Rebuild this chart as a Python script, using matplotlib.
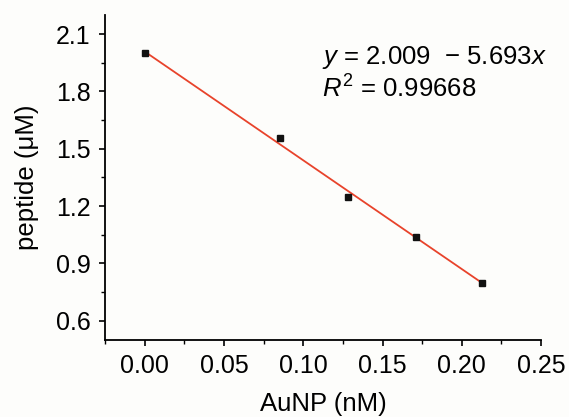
import matplotlib
matplotlib.use("Agg")
import matplotlib.pyplot as plt
import matplotlib.ticker as ticker

# data
aunp = [0.0, 0.0853, 0.128, 0.171, 0.213]
peptide = [2.000, 1.558, 1.247, 1.038, 0.795]
intercept = 2.009
slope = -5.693
r2 = 0.99668

plt.rcParams['font.family'] = ['Liberation Sans', 'DejaVu Sans']
plt.rcParams['mathtext.fontset'] = 'custom'
plt.rcParams['mathtext.rm'] = 'Liberation Sans'
plt.rcParams['mathtext.it'] = 'Liberation Sans:italic'

fig = plt.figure(figsize=(5.69, 4.17), dpi=100, facecolor='#fdfdfb')
ax = fig.add_axes([0.1845, 0.185, 0.7665, 0.779])
ax.set_facecolor('#fdfdfb')

# fitted line
fx = [min(aunp), max(aunp)]
fy = [intercept + slope * v for v in fx]
ax.plot(fx, fy, color='#e8432b', lw=1.3, zorder=2)
ax.plot(aunp, peptide, 's', color='#111111', ms=4.5, zorder=3)

ax.set_xlim(-0.025, 0.25)
ax.set_ylim(0.5, 2.2)
ax.xaxis.set_major_locator(ticker.MultipleLocator(0.05))
ax.xaxis.set_minor_locator(ticker.MultipleLocator(0.025))
ax.yaxis.set_major_locator(ticker.MultipleLocator(0.3))
ax.yaxis.set_minor_locator(ticker.MultipleLocator(0.15))
ax.xaxis.set_major_formatter(ticker.FormatStrFormatter('%.2f'))
ax.yaxis.set_major_formatter(ticker.FormatStrFormatter('%.1f'))
ax.tick_params(which='major', direction='out', length=4.5, width=1.2, labelsize=18, pad=6)
ax.tick_params(which='minor', direction='out', length=3, width=1.0)

ax.spines['top'].set_visible(False)
ax.spines['right'].set_visible(False)
ax.spines['left'].set_linewidth(1.3)
ax.spines['bottom'].set_linewidth(1.3)

ax.set_xlabel('AuNP (nM)', fontsize=18.5, labelpad=10)
ax.set_ylabel('peptide (\u03bcM)', fontsize=18.5, labelpad=12)

ax.text(0.112, 1.943, '$y$ = %.3f  \u2212 %.3f$x$' % (intercept, -slope),
        fontsize=18.5, ha='left', va='baseline')
ax.text(0.112, 1.768, '$R^2$ = %.5f' % r2, fontsize=18.5, ha='left', va='baseline')

fig.savefig('out.png', dpi=100, facecolor=fig.get_facecolor())
